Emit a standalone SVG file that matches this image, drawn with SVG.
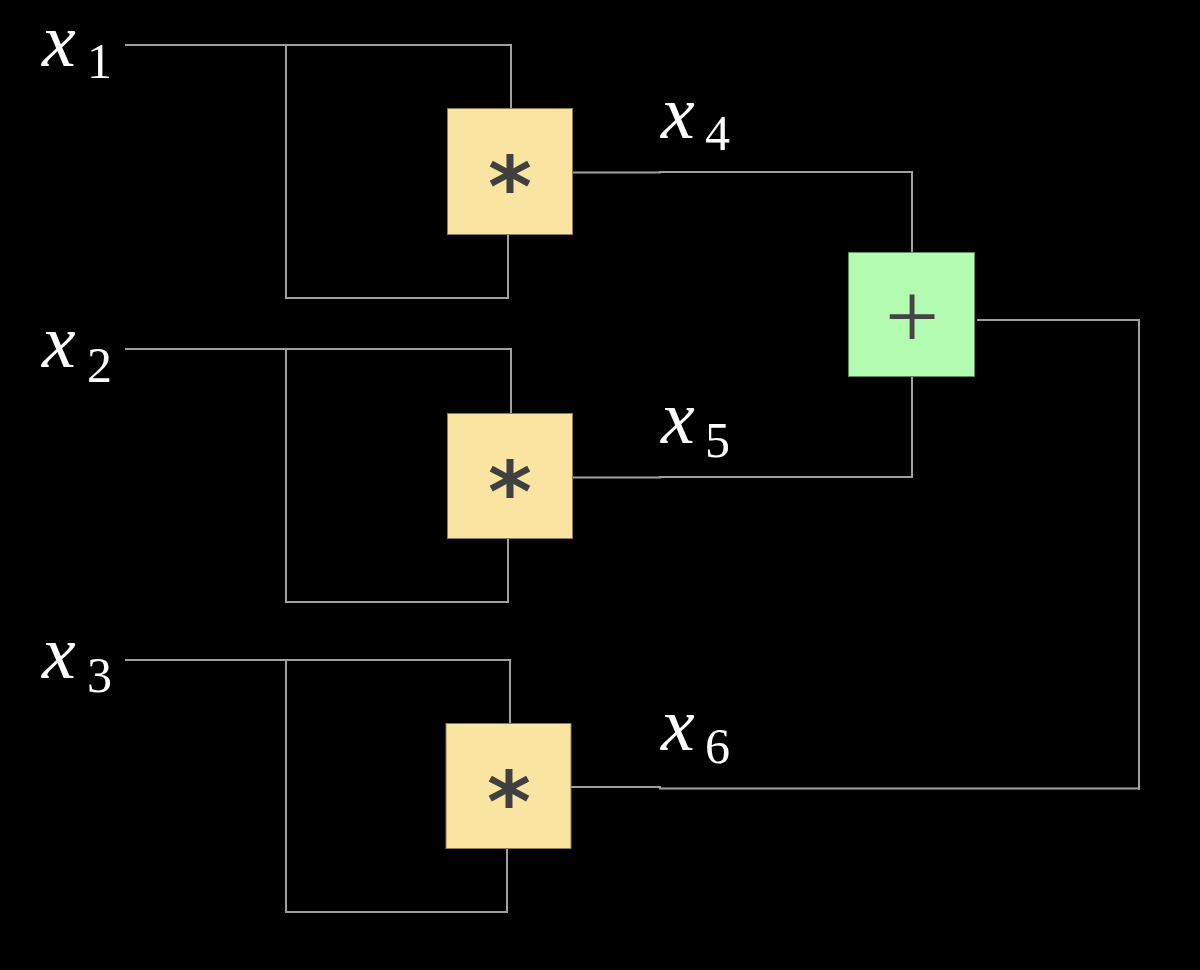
<svg xmlns="http://www.w3.org/2000/svg" width="1200" height="970" viewBox="0 0 1200 970">
<style>
.bg{fill:#000}
.w{fill:none;stroke:#a0a0a0;stroke-width:2}
.mul{fill:#f9e4a1;stroke:#8a7a4e;stroke-width:1}
.add{fill:#b2fbb0;stroke:#5d8a5a;stroke-width:1}
.ast{fill:#404040;text-anchor:middle}
.pls{fill:#444;text-anchor:middle}
</style>
<rect class="bg" x="0" y="0" width="1200" height="970"/>
<g id="connectors">
<path class="w" d="M125 45H511V108M286 45V298H508V234"/>
<path class="w" d="M125 349H511V413M286 349V602H508V538"/>
<path class="w" d="M125 660H510V723M286 660V912H507V848"/>
<path class="w" d="M572 172.5H660V172H912V252"/>
<path class="w" d="M572 477.5H660V477H912V377"/>
<path class="w" d="M571 787H660V788.5H1140"/>
<path class="w" d="M977 320H1139V790"/>
</g>
<g id="labels" font-family="Liberation Serif, serif" fill="#fff">
<g id="x1"><text x="42" y="66" font-style="italic" font-size="76">x</text><text x="87" y="78" font-size="50">1</text></g>
<g id="x2"><text x="42" y="367" font-style="italic" font-size="76">x</text><text x="87" y="382" font-size="50">2</text></g>
<g id="x3"><text x="42" y="678" font-style="italic" font-size="76">x</text><text x="87" y="692" font-size="50">3</text></g>
<g id="x4"><text x="661" y="138" font-style="italic" font-size="76">x</text><text x="705" y="150" font-size="50">4</text></g>
<g id="x5"><text x="661" y="443" font-style="italic" font-size="76">x</text><text x="705" y="457" font-size="50">5</text></g>
<g id="x6"><text x="661" y="750" font-style="italic" font-size="76">x</text><text x="705" y="763" font-size="50">6</text></g>
</g>
<g id="mul1"><rect class="mul" x="447.5" y="108.5" width="125" height="126"/><text class="ast" x="510" y="216" font-family="DejaVu Sans, sans-serif" font-weight="bold" font-size="84">*</text></g>
<g id="mul2"><rect class="mul" x="447.5" y="413.5" width="125" height="125"/><text class="ast" x="510" y="521" font-family="DejaVu Sans, sans-serif" font-weight="bold" font-size="84">*</text></g>
<g id="mul3"><rect class="mul" x="446" y="723.5" width="125" height="125"/><text class="ast" x="509" y="831" font-family="DejaVu Sans, sans-serif" font-weight="bold" font-size="84">*</text></g>
<g id="add"><rect class="add" x="848.5" y="252.5" width="126" height="124"/><text class="pls" x="912" y="348" font-family="Liberation Serif, serif" font-size="96">+</text></g>
</svg>
